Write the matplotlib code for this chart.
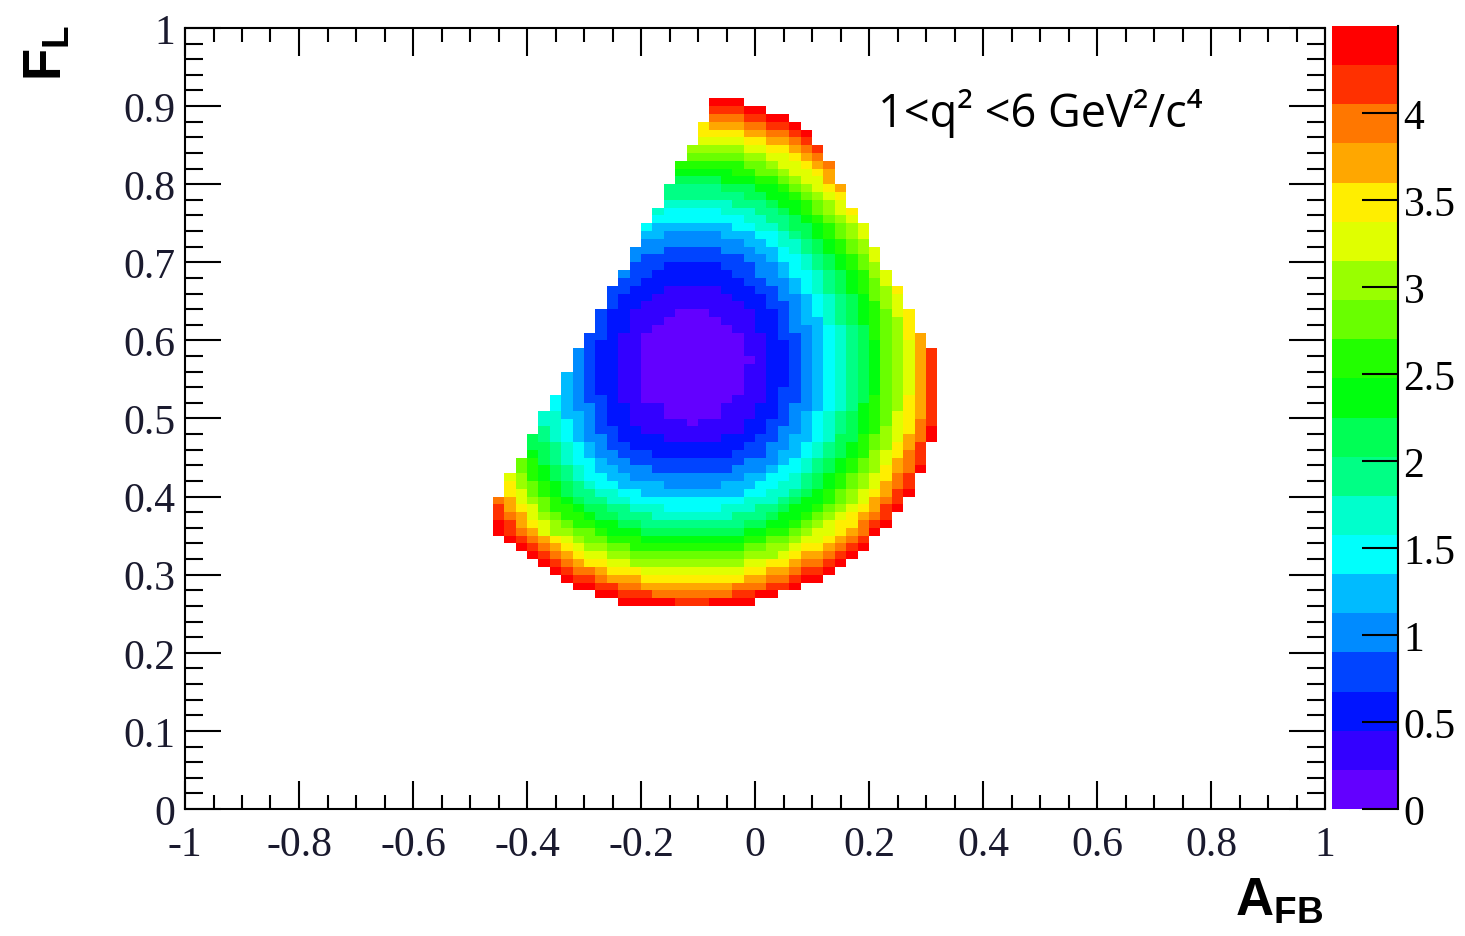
import numpy as np
import matplotlib
matplotlib.use('Agg')
import matplotlib.pyplot as plt
from matplotlib.colors import ListedColormap, BoundaryNorm
from matplotlib.ticker import MultipleLocator, FuncFormatter
import matplotlib.colorbar as mcolorbar

plt.rcParams['axes.unicode_minus'] = False
plt.rcParams['mathtext.fontset'] = 'custom'
plt.rcParams['mathtext.bf'] = 'Liberation Sans:bold'
plt.rcParams['mathtext.rm'] = 'Liberation Sans'

# 20 contour bands, violet (lowest) to red (highest)
band_colors = ['#6300FF', '#3300FF', '#0014FF', '#0044FF', '#008BFF', '#00BBFF',
               '#00FFFC', '#00FFCC', '#00FF85', '#00FF55', '#00FF0E', '#22FF00',
               '#69FF00', '#99FF00', '#E0FF00', '#FFEE00', '#FFA700', '#FF7700',
               '#FF3000', '#FF0000']
z_max = 4.5
n_bands = 20
cbar_ticks = [0, 0.5, 1, 1.5, 2, 2.5, 3, 3.5, 4]

# histogram binning of the filled region
afb_first = -0.46   # left edge of column 0
afb_step = 0.02
n_cols = 39
fl_top = 0.91       # top edge of the first row
fl_step = 0.01

# one entry per F_L row, from 0.90-0.91 down to 0.26-0.27:
# (first filled column, band index of each filled bin: 0-9 then a-j)
band_rows = [
    (19, "jjj"),
    (19, "iiijj"),
    (19, "hhhiijj"),
    (18, "fggghhiij"),
    (18, "ffffgghhij"),
    (18, "eeeeffgghi"),
    (17, "dddddeeffghi"),
    (17, "cccccddeefgh"),
    (16, "bbbbbbccdeefgh"),
    (16, "aaaaabbccdeefg"),
    (16, "9999aaabbcdeeg"),                         # 0.80
    (15, "88888999aabcdefg"),
    (15, "888888899aabcdef"),
    (15, "7777778889aabcde"),
    (14, "766666777889abcdef"),
    (14, "6666666677889abcde"),
    (13, "655555556677899abcde"),
    (13, "554444455566789abcde"),
    (13, "4444444445567789abcd"),
    (12, "44433333444556789abcde"),
    (12, "433333333344566789abce"),                 # 0.70
    (12, "333222223334456789abcd"),
    (11, "43322222223344566789abde"),
    (11, "33222222222334456789abce"),
    (10, "332221111122233456789abcdf"),
    (10, "3222111111122234456789acde"),
    (10, "3221111111112233456789abde"),
    (9, "32211110001111223456789abcef"),
    (9, "32211100000111223455789abcdf"),
    (9, "322110000000112234456789bcdf"),
    (8, "3321100000000011233456789bcdfg"),          # 0.60
    (8, "3221100000000011223456789acdeg"),
    (7, "43221100000000011223456789acdegi"),
    (7, "43221100000000001223456789acdegi"),
    (7, "43221100000000011223456789acdegi"),
    (6, "543221100000000011223456789acdegi"),
    (6, "543221100000000011223456789acdegi"),
    (6, "543221100000000011233456789acdegi"),
    (5, "6543321100000000111233456789bcdfgi"),
    (5, "654432211100000111223445678abcdfgi"),
    (4, "7755432211100000111223456789abcefgi"),     # 0.50
    (4, "7765432211111011112233456789abcefhi"),
    (4, "8765433221111111112234456789abdefhj"),
    (3, "98765443222211111222334556799bcdeghj"),
    (3, "9987654332222222222334456789abcdfgi"),
    (3, "a987654433322222223334556789abdefhi"),
    (2, "cb98766544333333333344456789abcdeghi"),
    (2, "cba9876554443333333444566789abcdfghj"),
    (1, "edba987665544444444445566789abcdefhi"),
    (1, "fdcba98766555544444555667789abcdeghi"),
    (1, "fecba9887766555555555667789abcdefgij"),    # 0.40
    (0, "hgedcba98877666666666677789aabcdeghi"),
    (0, "igfecbba998877766666777889aabcdefgij"),
    (0, "ihgedcbba9988877777778889aabcdefghi"),
    (0, "jigfedcbbaa9988888888899aabcdeffhij"),
    (0, "jihgeddccbaaa999999999aabbcdeefghj"),
    (1, "jihgfedccbbbaaaaaaaaabbccdeefghi"),
    (2, "jihgfeddccbbbbbbbbbbccddeffghij"),
    (3, "jihgfeeddccccccccccdddefgghij"),
    (4, "jihgffeeddddddddddeeffghhij"),
    (5, "jihhgfffeeeeeeeeeffgghiij"),               # 0.30
    (6, "jiihgggfffffffffgghhijj"),
    (7, "jjiihhgggggggghhhiij"),
    (9, "jjiiihhhhhhhiijj"),
    (11, "jjjjjiiijjjj"),
]

n_rows = len(band_rows)
z = np.full((n_rows, n_cols), np.nan)
for r, (first, codes) in enumerate(band_rows):
    for k, ch in enumerate(codes):
        c = first + k
        if c < n_cols:
            z[r, c] = (int(ch, 36) + 0.5) * z_max / n_bands

x_edges = afb_first + afb_step * np.arange(n_cols + 1)
y_edges = fl_top - fl_step * np.arange(n_rows + 1)

cmap = ListedColormap(band_colors)
cmap.set_bad((1, 1, 1, 0))
norm = BoundaryNorm(np.linspace(0, z_max, n_bands + 1), n_bands)

fig = plt.figure(figsize=(14.65, 9.37), dpi=100)
ax = fig.add_axes([185/1465, 127/937, 1140/1465, 781/937])
ax.pcolormesh(x_edges, y_edges, np.ma.masked_invalid(z), cmap=cmap, norm=norm,
              edgecolors='none', antialiased=False)

ax.set_xlim(-1, 1)
ax.set_ylim(0, 1)
ax.xaxis.set_major_locator(MultipleLocator(0.2))
ax.xaxis.set_minor_locator(MultipleLocator(0.05))
ax.yaxis.set_major_locator(MultipleLocator(0.1))
ax.yaxis.set_minor_locator(MultipleLocator(0.02))
fmt = FuncFormatter(lambda v, p: '%g' % round(v, 2))
ax.xaxis.set_major_formatter(fmt)
ax.yaxis.set_major_formatter(fmt)
ax.tick_params(which='both', direction='in', top=True, right=True, width=1.5, color='k')
ax.tick_params(axis='x', which='major', length=20, pad=12)
ax.tick_params(axis='x', which='minor', length=10)
ax.tick_params(axis='y', which='major', length=26, pad=7)
ax.tick_params(axis='y', which='minor', length=13)
for lab in ax.get_xticklabels() + ax.get_yticklabels():
    lab.set_fontfamily('Liberation Serif')
    lab.set_fontsize(30)
    lab.set_color('#1a1a2e')
for s in ax.spines.values():
    s.set_linewidth(1.5)

# colour scale
cax = fig.add_axes([1332/1465, 127/937, 66/1465, 783/937])
cb = mcolorbar.ColorbarBase(cax, cmap=cmap, norm=norm, orientation='vertical',
                            ticks=cbar_ticks)
cb.outline.set_visible(False)
cax.axvline(1, color='k', lw=1.5, clip_on=False)
cax.tick_params(direction='in', length=26, width=1.5, right=True, left=False, pad=4)
cax.yaxis.set_major_formatter(fmt)
cax.minorticks_off()
for lab in cax.get_yticklabels():
    lab.set_fontfamily('Liberation Serif')
    lab.set_fontsize(30)

fig.text(1323/1465, 22/937, r'$\mathbf{A}_{\mathbf{FB}}$', ha='right', va='baseline',
         fontsize=38)
fig.text(20/1465, 912/937, r'$\mathbf{F}_{\mathbf{L}}$', ha='left', va='top',
         rotation=90, fontsize=38)
fig.text(878/1465, 810/937, '1<q² <6 GeV²/c⁴', ha='left', va='baseline',
         fontsize=32.5, family=['Open Sans', 'DejaVu Sans'])

fig.savefig('out.png', dpi=100)
